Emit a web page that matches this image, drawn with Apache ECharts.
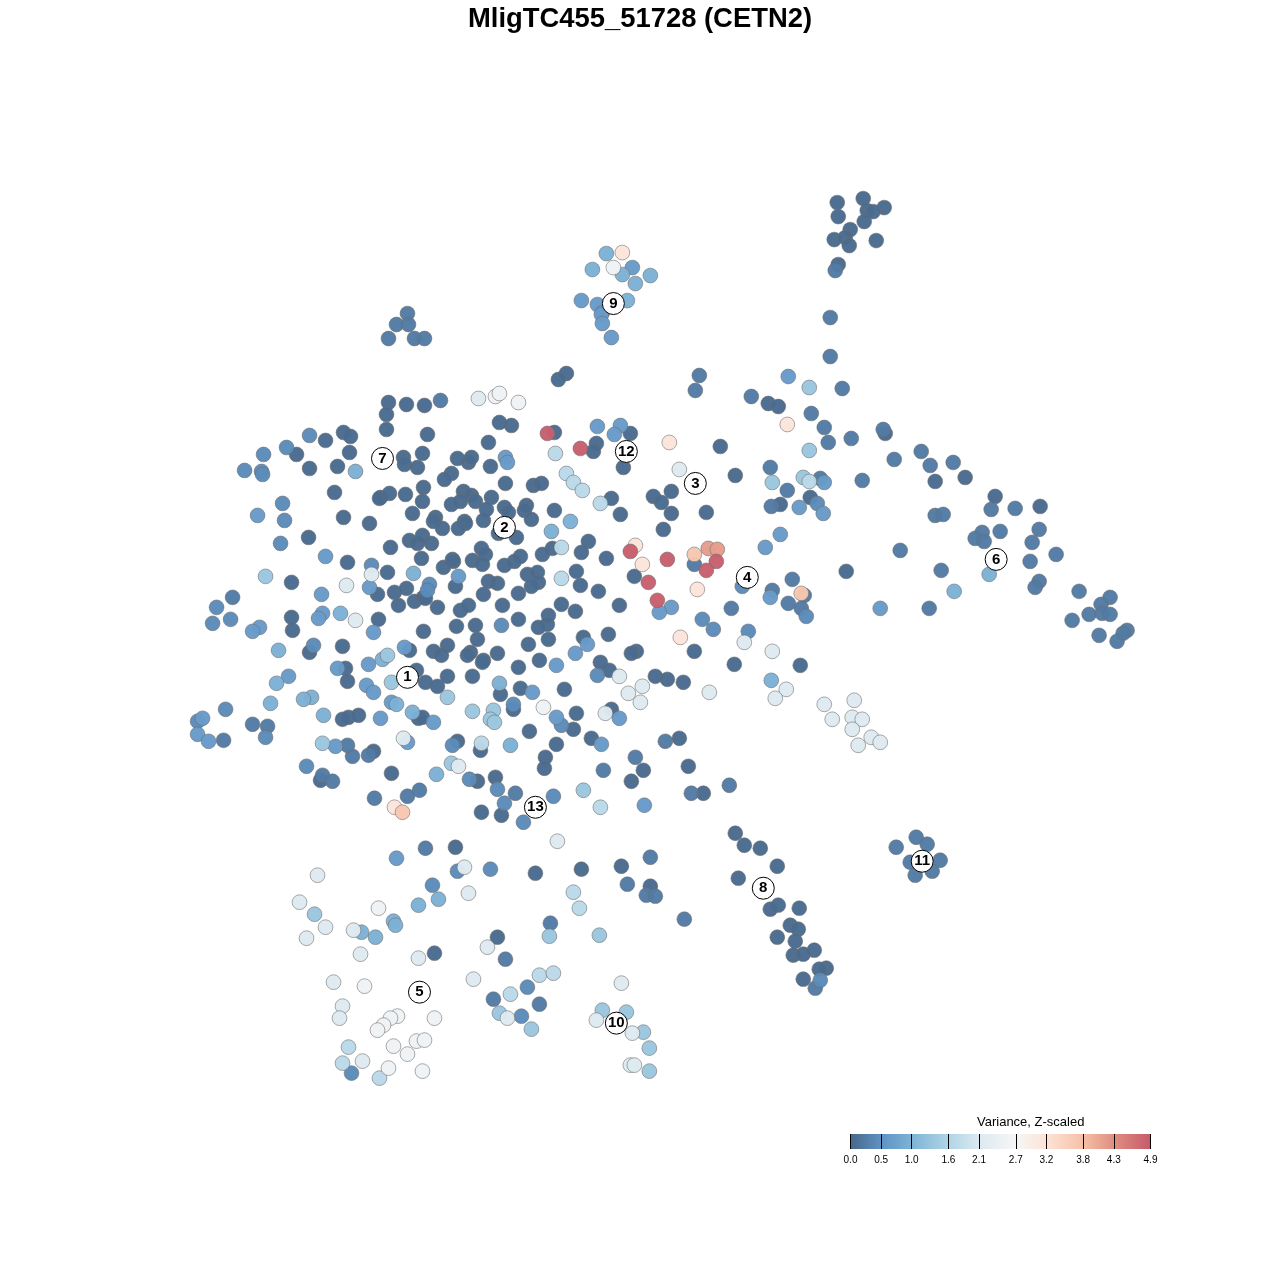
<!DOCTYPE html>
<html><head><meta charset="utf-8">
<script src="https://cdn.jsdelivr.net/npm/echarts@6/dist/echarts.min.js"></script>
<style>html,body{margin:0;background:#fff}#c{width:1280px;height:1280px}</style></head>
<body><div id="c"></div>
<script>
const chartTitle = "MligTC455_51728 (CETN2)";
const legendTitle = "Variance, Z-scaled";
const legendTicks = [0, 0.5, 1.0, 1.6, 2.1, 2.7, 3.2, 3.8, 4.3, 4.9];
const legendColors = ["#476789","#5f92c4","#7eb3d6","#b0d5e5","#dde9f1","#f6f6f6","#fde3d6","#f6c0a8","#e08f80","#c65a6b"];
const clusterIds = [1,2,3,4,5,6,7,8,9,10,11,12,13];
const clusterX = [407,504,695,747,419,996,382,763,613,616,922,626,535];
const clusterY = [677,527,483,577,992,559,458,888,303,1023,861,451,807];

const level00 = [[343,432],[350,436],[386,429],[325,440],[296,454],[349,452],[309,468],[337,466],[403,457],[404,464],[417,467],[422,453],[334,492],[379,498],[380,497],[389,493],[405,494],[423,487],[422,501],[343,517],[369,523],[412,513],[308,537],[409,540],[417,543],[422,535],[390,547],[421,558],[347,562],[387,572],[291,582],[377,594],[394,592],[406,588],[414,601],[423,597],[398,605],[291,617],[292,630],[378,619],[423,631],[309,652],[342,646],[409,650],[345,668],[347,681],[416,670],[418,718],[342,719],[348,717],[358,715],[373,751],[320,780],[391,773],
[499,422],[511,425],[427,434],[554,432],[630,433],[596,443],[593,451],[488,442],[457,458],[468,462],[471,457],[490,466],[623,467],[451,473],[444,479],[505,483],[533,485],[541,483],[463,491],[471,495],[491,497],[460,501],[475,501],[451,504],[611,498],[504,507],[508,512],[526,505],[524,510],[531,519],[486,509],[483,520],[554,510],[620,514],[435,517],[433,521],[442,528],[464,521],[465,523],[458,528],[498,533],[516,537],[431,543],[588,541],[552,548],[581,552],[542,554],[481,548],[485,554],[520,556],[514,561],[504,565],[472,560],[482,564],[452,559],[453,561],[443,567],[606,558],[576,571],[634,576],[527,574],[537,572],[538,582],[531,586],[580,585],[598,591],[488,581],[497,583],[455,586],[425,598],[483,594],[518,593],[561,604],[575,611],[619,605],[437,607],[460,610],[468,605],[502,605],[518,619],[548,615],[547,624],[538,627],[456,626],[475,625],[477,639],[548,639],[608,634],[583,637],[528,644],[447,645],[433,651],[441,655],[470,652],[467,655],[497,653],[636,651],[631,653],[539,660],[483,660],
[482,662],[518,667],[600,662],[609,670],[655,676],[447,676],[472,676],[425,682],[437,686],[500,694],[520,688],[564,689],[513,709],[576,713],[611,709],[573,729],[422,717],[591,738],[529,731],[556,744],[457,741],[480,750],[545,757],[544,768],[643,770],[631,781],[477,781],[495,777],[481,812],[501,815],[455,847],[535,873],[581,869],[621,866],
[671,491],[653,496],[661,502],[671,513],[720,446],[735,475],[706,512],[810,497],[780,504],[663,529],[846,571],[694,651],[734,664],[800,665],
[863,198],[837,202],[884,207],[867,210],[873,211],[838,216],[864,221],[850,229],[834,239],[845,237],[849,245],[876,240],[838,264],
[566,373],[558,379],[768,403],[778,406],[388,402],[406,404],[424,405],[386,414],[885,433],[683,682],[667,679],[688,766],[703,793],[679,738],[650,886],[434,953],[935,481],[965,477],[995,496],[1040,506],[497,937],
[735,833],[744,845],[760,848],[777,866],[738,878],[799,908],[778,905],[770,909],[790,925],[798,929],[777,937],[795,941],[814,950],[793,955],[803,954],[826,968],[819,969],[803,979]];

const level01 = [[232,597],[223,740],[252,724],[267,726],[352,756],[347,745],[368,755],[322,775],[332,781],[374,798],[407,796],[419,790],[425,848],[635,757],[603,770],[515,793],[650,857],[824,427],[828,442],[851,438],[883,429],[770,467],[820,478],[862,480],[787,490],[771,506],[792,579],[772,590],[804,595],[788,603],[801,608],[731,608],[694,564],
[835,270],[830,317],[830,356],[407,313],[396,324],[408,324],[388,338],[414,338],[424,338],[699,375],[695,390],[842,388],[751,396],[811,413],[440,400],
[894,459],[921,451],[930,465],[953,462],[991,509],[1015,508],[935,515],[943,514],[1039,529],[982,532],[975,538],[1000,531],[984,541],[1032,542],[900,550],[1056,554],[1030,561],[941,570],[1039,581],[1035,587],[929,608],[1079,591],[1110,597],[1101,604],[1089,614],[1102,613],[1110,614],[1072,620],[1127,630],[1123,633],[1099,635],[1117,641],
[916,837],[927,844],[896,847],[910,862],[940,860],[915,875],[932,871],[684,919],[729,785],[691,793],[665,741],[627,884],[646,895],[655,896],[550,923],[505,959],[493,999],[539,1004],[815,988]];

const level02 = [[309,435],[263,454],[286,447],[244,470],[261,471],[262,474],[282,503],[284,520],[280,543],[371,565],[216,607],[230,619],[212,623],[313,645],[197,721],[225,709],[265,737],[306,766],[513,704],[457,871],[490,869],[432,885],[351,1073],[521,1016],[527,987],[561,725],[452,745],[469,779],[497,789],[504,803],[553,796],[523,822],[597,675],[501,625],[429,584],[427,590],[817,503],[742,586],[702,619],[713,629],[748,631],[806,616],[820,980]];

const level03 = [[257,515],[325,556],[369,587],[321,594],[322,613],[318,618],[373,632],[259,627],[252,631],[404,647],[368,664],[337,668],[366,685],[373,692],[391,702],[380,718],[202,718],[197,734],[208,741],[407,742],[335,746],[288,676],[458,576],[505,457],[507,462],[597,426],[620,425],[614,434],[556,665],[575,653],[587,644],[532,692],[556,717],[619,718],[433,722],[601,744],[644,805],[396,858],[824,482],[799,507],[823,513],[780,534],[765,547],[770,597],[671,607],[659,612],[880,608],[788,376],[581,300],[597,304],[632,267],[602,312],[601,314],[602,323],[611,337]];

const level04 = [[355,471],[413,573],[340,613],[278,650],[382,659],[276,683],[396,704],[270,703],[311,697],[303,699],[412,712],[323,715],[551,531],[570,521],[499,683],[510,745],[436,774],[606,253],[592,269],[622,274],[650,275],[635,283],[627,300],[771,680],[438,899],[418,905],[393,921],[395,925],[375,937],[361,932],[989,574],[954,591]];

const level05 = [[265,576],[387,655],[391,682],[322,743],[447,697],[493,710],[472,711],[490,719],[494,722],[451,763],[583,790],[809,450],[803,477],[772,482],[809,387],[549,936],[499,1013],[626,1012],[314,914],[599,935],[602,1010],[531,1029],[643,1032],[649,1048],[649,1071]];

const level06 = [[555,453],[566,473],[573,482],[582,490],[600,503],[561,547],[561,578],[481,743],[600,807],[809,481],[573,892],[579,908],[539,975],[553,973],[510,994],[342,1063],[348,1047],[379,1078]];

const level07 = [[371,574],[346,585],[355,620],[403,738],[458,766],[317,875],[464,867],[557,841],[619,676],[642,686],[628,693],[640,702],[605,713],[679,469],[744,642],[772,651],[709,692],[478,398],[468,893],[299,902],[325,927],[306,938],[353,930],[360,954],[418,958],[487,947],[621,983],[333,982],[342,1006],[339,1018],[507,1018],[596,1020],[632,1033],[362,1061],[473,979],[786,689],[775,698],[824,704],[854,700],[832,719],[852,717],[862,719],[852,729],[871,737],[880,742],[858,745],[630,1065],[634,1065]];

const level08 = [[543,707],[495,396],[499,393],[518,402],[613,267],[378,908],[364,986],[397,1016],[390,1018],[383,1025],[377,1030],[434,1018],[393,1046],[416,1041],[424,1040],[407,1054],[388,1068],[422,1071]];

const level09 = [[635,545],[642,564],[394,807],[787,424],[669,442],[697,589],[680,637],[622,252]];
const level10 = [[402,812],[694,554],[801,593]];
const level11 = [[708,548],[717,549]];
const level12 = [[547,433],[580,448],[630,551],[648,582],[657,600],[667,559],[716,561],[706,570]];

const levels = [
  [0.05, level00],[0.25, level01],[0.45, level02],[0.7, level03],[1.05, level04],[1.4, level05],[1.75, level06],
  [2.2, level07],[2.6, level08],[3.2, level09],[3.7, level10],[4.2, level11],[4.85, level12]
];
const cells = [];
levels.forEach(([v, pts]) => pts.forEach(p => cells.push([p[0], p[1], v])));
const clusters = clusterIds.map((id, i) => [clusterX[i], clusterY[i], id]);

const font = '"Liberation Sans", Arial, sans-serif';
const chart = echarts.init(document.getElementById('c'), null, {renderer:'canvas'});
chart.setOption({
  animation:false,
  backgroundColor:'#fff',
  title:[
    {text:chartTitle,left:'center',top:1,textStyle:{fontFamily:font,fontSize:27.4,fontWeight:'bold',color:'#000'}},
    {text:legendTitle,left:972,top:1111,textStyle:{fontFamily:font,fontSize:13,fontWeight:'normal',color:'#000'}}
  ],
  grid:[
    {left:0.7,top:0.7,width:1280,height:1280,show:false},
    {left:850.5,top:1134,width:300,height:15,show:true,borderWidth:0,
     backgroundColor:{type:'linear',x:0,y:0,x2:1,y2:0,
       colorStops:legendTicks.map((t,i)=>({offset:t/4.9,color:legendColors[i]}))}}
  ],
  xAxis:[
    {gridIndex:0,type:'value',min:0,max:1280,show:false},
    {gridIndex:1,type:'value',min:0,max:4.9,
     axisLine:{show:false},splitLine:{show:false},
     axisTick:{show:true,inside:true,length:15,lineStyle:{color:'#000',width:1},customValues:legendTicks},
     axisLabel:{show:true,customValues:legendTicks,margin:6,fontFamily:font,fontSize:10,color:'#000',hideOverlap:false,
       showMinLabel:true,showMaxLabel:true,formatter:v=>v.toFixed(1)}}
  ],
  yAxis:[
    {gridIndex:0,type:'value',min:0,max:1280,inverse:true,show:false},
    {gridIndex:1,type:'value',min:0,max:1,show:false}
  ],
  visualMap:[{show:false,type:'continuous',seriesIndex:0,dimension:2,min:0,max:4.9,inRange:{color:legendColors}}],
  series:[
    {type:'scatter',xAxisIndex:0,yAxisIndex:0,data:cells,symbolSize:14.8,silent:true,
     itemStyle:{opacity:0.97,borderColor:'rgba(110,110,110,0.6)',borderWidth:1}},
    {type:'scatter',xAxisIndex:0,yAxisIndex:0,data:clusters,symbolSize:22,silent:true,z:5,
     itemStyle:{color:'#fff',borderColor:'#000',borderWidth:1,opacity:1},
     label:{show:true,position:'inside',formatter:p=>String(p.value[2]),fontFamily:font,fontSize:15,fontWeight:'bold',color:'#000'}}
  ]
});
</script></body></html>
